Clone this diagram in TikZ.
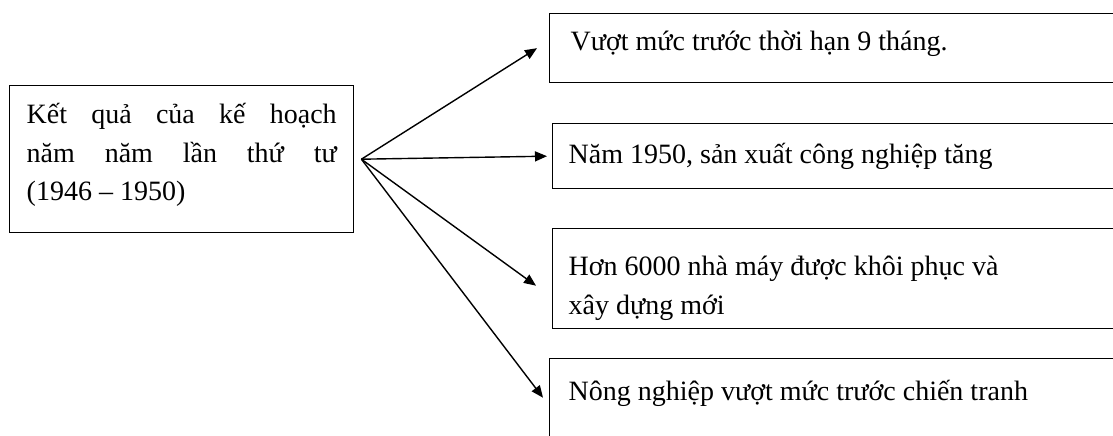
\documentclass[tikz,border=0pt]{standalone}
\usepackage{fontspec}
\setmainfont{Liberation Serif}
\usetikzlibrary{arrows.meta,positioning}

\begin{document}
\begin{tikzpicture}[x=1pt, y=-1pt,
  resultbox/.style={draw, line width=1.4pt, anchor=north west, inner ysep=0pt,
    inner xsep=17pt, align=flush left, font=\fontsize{28}{38.5}\selectfont},
  arr/.style={-{Triangle[length=12pt, width=10pt]}, line width=1.4pt}]
\useasboundingbox (0,0) rectangle (1113,436);
% Main node
\node[resultbox, text width=310pt, text height=38pt, text depth=109pt] (plan) at (9,85)
  {\makebox[310pt][s]{Kết quả của kế hoạch}\\
   \makebox[310pt][s]{năm năm lần thứ tư}\\
   (1946 – 1950)};
\coordinate (fan) at ([xshift=7pt]plan.east);
% Result nodes
\node[resultbox, inner xsep=21pt, text width=560pt, text height=37pt,
      text depth=32pt] (r1) at (549,13)
  {Vượt mức trước thời hạn 9 tháng.};
\node[resultbox, inner xsep=16pt, text width=560pt, text height=40pt,
      text depth=25pt] (r2) at (552,123)
  {Năm 1950, sản xuất công nghiệp tăng};
\node[resultbox, inner xsep=16pt, text width=560pt, text height=47pt,
      text depth=53pt] (r3) at (552,228)
  {Hơn 6000 nhà máy được khôi phục và\\xây dựng mới};
\node[resultbox, inner xsep=19pt, text width=560pt, text height=42pt,
      text depth=60pt] (r4) at (549,358)
  {Nông nghiệp vượt mức trước chiến tranh};
% Arrows
\draw[arr] (fan) -- ([xshift=-12pt]r1.west);
\draw[arr] (fan) -- ([xshift=-5pt]r2.west);
\draw[arr] (fan) -- ([xshift=-16pt, yshift=-7pt]r3.west);
\draw[arr] (fan) -- ([xshift=-6pt, yshift=12pt]r4.west);
\end{tikzpicture}
\end{document}
